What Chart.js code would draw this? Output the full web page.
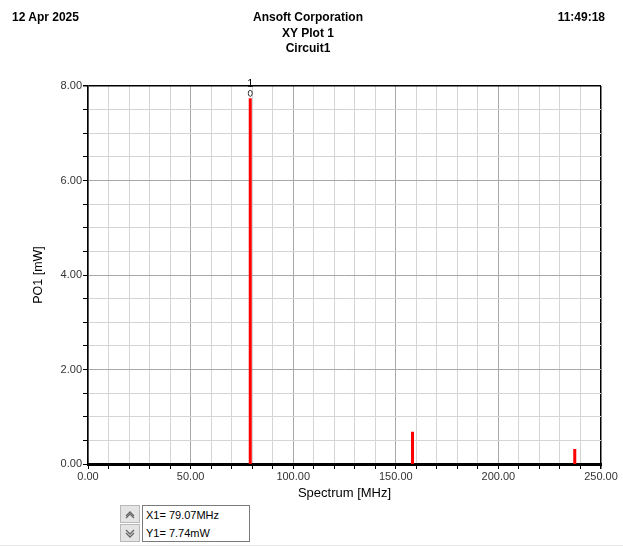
<!DOCTYPE html>
<html><head><meta charset="utf-8">
<script src="https://cdn.jsdelivr.net/npm/chart.js@4"></script>
<style>
body{margin:0;width:623px;height:547px;position:relative;background:#fff;font-family:"Liberation Sans",Arial,sans-serif;overflow:hidden}
#wrap{position:absolute;left:0;top:0;width:623px;height:547px}
.h{position:absolute;font-weight:bold;font-size:12px;color:#000;line-height:15px;white-space:nowrap}
.btn{position:absolute;left:120px;width:20px;height:18px;background:#e4e4e4;border:1px solid #b8b8b8;box-sizing:border-box}
.box{position:absolute;left:142px;top:505px;width:108px;height:37px;border:1px solid #7a7a7a;box-sizing:border-box;background:#fff;font-size:11px;color:#000;line-height:18px;padding-left:3px}
.bl{position:absolute;left:0;top:545px;width:623px;height:1px;background:#e6e6e6}
</style></head>
<body>
<div id="wrap"><canvas id="c" width="623" height="547"></canvas></div>
<div class="h" style="left:12px;top:10px">12 Apr 2025</div>
<div class="h" style="left:208px;width:200px;text-align:center;top:10px">Ansoft Corporation</div>
<div class="h" style="left:208px;width:200px;text-align:center;top:26px">XY Plot 1</div>
<div class="h" style="left:208px;width:200px;text-align:center;top:41px">Circuit1</div>
<div class="h" style="right:18px;top:10px">11:49:18</div>
<div class="btn" style="top:505px"><svg width="18" height="16"><polyline points="5,10 9,6 13,10" fill="none" stroke="#666" stroke-width="1.3"/><polyline points="5,12 9,8 13,12" fill="none" stroke="#666" stroke-width="1.3"/></svg></div>
<div class="btn" style="top:524px"><svg width="18" height="16"><polyline points="5,5 9,9 13,5" fill="none" stroke="#666" stroke-width="1.3"/><polyline points="5,8 9,12 13,8" fill="none" stroke="#666" stroke-width="1.3"/></svg></div>
<div class="box"><div>X1= 79.07MHz</div><div>Y1= 7.74mW</div></div>
<div class="bl"></div>
<script>
// Data
const freqsMHz = [79.07, 158.14, 237.21];
const powerMW = [7.74, 0.68, 0.32];
const markerLabel = "1";
const xTitle = "Spectrum [MHz]";
const yTitle = "PO1 [mW]";

const spikes = [];
freqsMHz.forEach((f, i) => {
  spikes.push({x: f, y: 0});
  spikes.push({x: f, y: powerMW[i]});
  spikes.push({x: f, y: null});
});

const markerPlugin = {
  id: 'marker',
  afterDatasetsDraw(chart) {
    const ctx = chart.ctx;
    const xs = chart.scales.x, ys = chart.scales.y;
    const px = xs.getPixelForValue(freqsMHz[0]);
    const py = ys.getPixelForValue(powerMW[0]);
    ctx.save();
    ctx.fillStyle = '#000';
    ctx.font = '11px "Liberation Sans", Arial, sans-serif';
    ctx.textAlign = 'center';
    ctx.textBaseline = 'middle';
    ctx.fillText(markerLabel, px, chart.chartArea.top - 2);
    ctx.strokeStyle = '#333';
    ctx.lineWidth = 1;
    ctx.beginPath();
    ctx.ellipse(px, py - 5, 2, 3, 0, 0, Math.PI * 2);
    ctx.stroke();
    ctx.restore();
  }
};

new Chart(document.getElementById('c'), {
  type: 'line',
  data: {
    datasets: [{
      data: spikes,
      borderColor: '#ff0000',
      borderWidth: 3,
      pointRadius: 0,
      spanGaps: false,
      tension: 0
    }]
  },
  options: {
    responsive: false,
    animation: false,
    events: [],
    parsing: true,
    layout: {padding: {left: 28, top: 86, right: 22, bottom: 44}},
    plugins: {legend: {display: false}, tooltip: {enabled: false}},
    scales: {
      x: {
        type: 'linear', min: 0, max: 250,
        afterFit(s) { s.height = 39; },
        border: {display: true, color: '#000', width: 3},
        grid: {
          color: c => (c.tick && c.tick.value === 250) ? '#000' : (c.tick && c.tick.value % 50 === 0 ? '#a8a8a8' : '#d4d4d4'),
          lineWidth: c => (c.tick && c.tick.value === 250) ? 1.5 : 1,
          tickColor: '#000', tickLength: 5, drawTicks: true
        },
        ticks: {
          stepSize: 10, autoSkip: false, maxRotation: 0, padding: 1,
          color: '#333', font: {family: '"Liberation Sans", Arial, sans-serif', size: 11},
          callback: v => (v % 50 === 0 ? v.toFixed(2) : '')
        },
        title: {display: true, text: xTitle, color: '#000', padding: {top: 0, bottom: 2},
          font: {family: '"Liberation Sans", Arial, sans-serif', size: 13}}
      },
      y: {
        type: 'linear', min: 0, max: 8,
        afterFit(s) { s.width = 60; },
        border: {display: true, color: '#000', width: 1.5},
        grid: {
          color: c => (c.tick && c.tick.value === 8) ? '#000' : (c.tick && c.tick.value % 2 === 0 ? '#a8a8a8' : '#d4d4d4'),
          lineWidth: c => (c.tick && c.tick.value === 8) ? 1.5 : 1,
          tickColor: '#000', tickLength: 5, drawTicks: true
        },
        ticks: {
          stepSize: 0.5, autoSkip: false, padding: 1,
          color: '#333', font: {family: '"Liberation Sans", Arial, sans-serif', size: 11},
          callback: v => (v % 2 === 0 ? v.toFixed(2) : '')
        },
        title: {display: true, text: yTitle, color: '#000', padding: {top: 3, bottom: 0},
          font: {family: '"Liberation Sans", Arial, sans-serif', size: 12.5}}
      }
    }
  },
  plugins: [markerPlugin]
});
</script>
</body></html>
